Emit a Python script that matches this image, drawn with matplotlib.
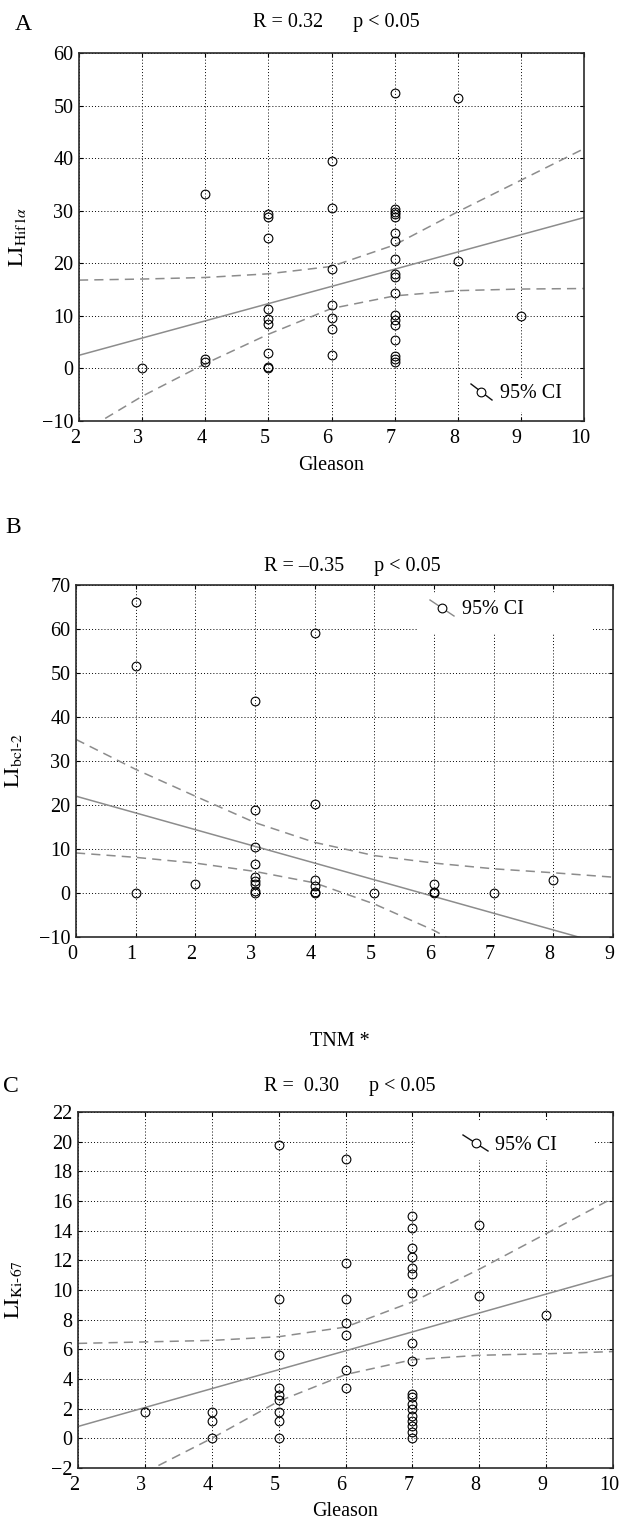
import matplotlib
matplotlib.use("Agg")
import matplotlib.pyplot as plt
from matplotlib.lines import Line2D
from matplotlib.patches import Rectangle
from matplotlib.transforms import ScaledTranslation

plt.rcParams['font.family'] = ['Liberation Serif', 'DejaVu Serif']
plt.rcParams['mathtext.fontset'] = 'stix'

W, H = 620, 1521

# ---------------- data ----------------
# Panel A: LI Hif1alpha vs Gleason
a_x = [3,
       4, 4, 4,
       5, 5, 5, 5, 5, 5, 5, 5, 5,
       6, 6, 6, 6, 6, 6, 6,
       7, 7, 7, 7, 7, 7, 7, 7, 7, 7, 7, 7, 7, 7, 7, 7, 7, 7,
       8, 8,
       9]
a_y = [0.0,
       33.1, 1.8, 1.3,
       29.3, 28.8, 24.9, 11.3, 9.4, 8.4, 2.9, 0.3, 0.0,
       39.4, 30.6, 18.9, 12.1, 9.5, 7.5, 2.5,
       52.3, 30.4, 29.8, 29.3, 28.8, 25.7, 24.2, 20.9, 18.0, 17.4, 14.4, 10.2, 9.2, 8.2, 5.4, 2.3, 1.8, 1.3,
       51.4, 20.4,
       10.0]
a_fit_x = [2, 10]
a_fit_y = [2.5, 28.7]
a_ci_x = [2, 3, 4, 5, 6, 7, 8, 9, 10]
a_ci_hi = [16.8, 17.0, 17.3, 18.0, 19.4, 23.5, 29.8, 35.8, 41.8]
a_ci_lo = [-12.5, -5.3, 0.9, 6.5, 11.4, 13.8, 14.8, 15.1, 15.2]

# Panel B: LI bcl-2 vs TNM
b_x = [1, 1, 1,
       2,
       3, 3, 3, 3, 3, 3, 3, 3, 3,
       4, 4, 4, 4, 4, 4,
       5,
       6, 6, 6,
       7,
       8]
b_y = [66.2, 51.7, 0.0,
       2.0,
       43.6, 18.8, 10.5, 6.7, 3.7, 2.7, 2.0, 0.5, 0.0,
       59.1, 20.3, 3.0, 1.5, 0.2, 0.0,
       0.0,
       2.0, 0.3, 0.0,
       0.0,
       2.9]
b_fit_x = [0, 9]
b_fit_y = [22.0, -12.2]
b_ci_x = [0, 1, 2, 3, 4, 5, 6, 7, 8, 9]
b_ci_hi = [34.9, 28.1, 22.0, 16.0, 11.5, 8.5, 6.8, 5.5, 4.6, 3.6]
b_ci_lo = [9.1, 8.1, 6.8, 4.9, 2.3, -2.5, -8.5, -16.0, -23.0, -30.0]

# Panel C: LI Ki-67 vs Gleason
c_x = [3,
       4, 4, 4,
       5, 5, 5, 5, 5, 5, 5, 5, 5,
       6, 6, 6, 6, 6, 6, 6,
       7, 7, 7, 7, 7, 7, 7, 7, 7, 7, 7, 7, 7, 7, 7, 7, 7, 7,
       8, 8,
       9]
c_y = [1.8,
       1.8, 1.2, 0.0,
       19.8, 9.4, 5.6, 3.4, 2.9, 2.6, 1.8, 1.2, 0.0,
       18.8, 11.8, 9.4, 7.8, 7.0, 4.6, 3.4,
       15.0, 14.2, 12.8, 12.2, 11.5, 11.1, 9.8, 6.4, 5.2, 3.0, 2.8, 2.3, 2.0, 1.5, 1.2, 0.8, 0.4, 0.0,
       14.35, 9.6,
       8.3]
c_fit_x = [2, 10]
c_fit_y = [0.8, 11.0]
c_ci_x = [2, 3, 4, 5, 6, 7, 8, 9, 10]
c_ci_hi = [6.4, 6.5, 6.6, 6.85, 7.5, 9.2, 11.4, 13.8, 16.2]
c_ci_lo = [-4.8, -2.3, 0.0, 2.5, 4.3, 5.3, 5.6, 5.7, 5.85]

panels = [
    dict(letter='A', title='R = 0.32      p < 0.05',
         x=a_x, y=a_y, fx=a_fit_x, fy=a_fit_y, cx=a_ci_x, chi=a_ci_hi, clo=a_ci_lo,
         xlim=(2, 10), xticks=list(range(2, 11)), ylim=(-10, 60), yticks=list(range(-10, 61, 10)),
         ylabel=r'$\mathrm{LI}_{\mathrm{Hif1}\alpha}$', xlabel='Gleason'),
    dict(letter='B', title='R = \u20130.35      p < 0.05',
         x=b_x, y=b_y, fx=b_fit_x, fy=b_fit_y, cx=b_ci_x, chi=b_ci_hi, clo=b_ci_lo,
         xlim=(0, 9), xticks=list(range(0, 10)), ylim=(-10, 70), yticks=list(range(-10, 71, 10)),
         ylabel=r'$\mathrm{LI}_{\mathrm{bcl\text{-}2}}$', xlabel='TNM *'),
    dict(letter='C', title='R =  0.30      p < 0.05',
         x=c_x, y=c_y, fx=c_fit_x, fy=c_fit_y, cx=c_ci_x, chi=c_ci_hi, clo=c_ci_lo,
         xlim=(2, 10), xticks=list(range(2, 11)), ylim=(-2, 22), yticks=list(range(-2, 23, 2)),
         ylabel=r'$\mathrm{LI}_{\mathrm{Ki\text{-}67}}$', xlabel='Gleason'),
]

# layout in pixels: (left, right, top, bottom)
boxes = [(79, 584, 53, 421), (76, 613, 585, 937), (78, 613, 1112, 1468)]
letter_pos = [(23, 25), (13, 527), (11, 1086)]
title_pos = [(336, 22), (352, 566), (350, 1086)]
ylabel_pos = [(18, 237), (14, 760), (14, 1290)]
xlabel_pos = [(331, 466), (340, 1041), (345, 1511)]
# legend: white box (l, r, t, b), handle line (x0,y0,x1,y1), circle (x,y), text (x,y), handle colour
legends = [
    dict(box=(462, 580, 378, 412), line=(471, 384, 492, 400), circ=(481, 392), text=(500, 393), col='#111111'),
    dict(box=(417, 593, 593, 634), line=(430, 600, 454, 616), circ=(442, 608), text=(462, 609), col='#888888'),
    dict(box=(415, 593, 1122, 1160), line=(463, 1135, 488, 1151), circ=(476, 1143), text=(495, 1146), col='#111111'),
]

fig = plt.figure(figsize=(W / 100, H / 100), dpi=100)


def fx(px):
    return px / W


def fy(py):
    return 1 - py / H


FS = 14.5
GRAY = '#8c8c8c'
shift = ScaledTranslation(-4 / 100, 0, fig.dpi_scale_trans)
for p, (l, r, t, b), lp, tp, ylp, xlp, lg in zip(panels, boxes, letter_pos, title_pos,
                                                  ylabel_pos, xlabel_pos, legends):
    ax = fig.add_axes([fx(l), fy(b), (r - l) / W, (b - t) / H])
    ax.set_xlim(*p['xlim'])
    ax.set_ylim(*p['ylim'])
    ax.set_xticks(p['xticks'])
    ax.set_yticks(p['yticks'])
    ax.grid(True, color='black', linestyle=(0, (1, 2.2)), linewidth=0.7)
    ax.set_axisbelow(True)
    for s in ax.spines.values():
        s.set_linewidth(1.2)
        s.set_color('#2a2a2a')
    ax.tick_params(direction='in', length=3, width=0.8, labelsize=FS, pad=4,
                   top=True, right=True)
    ax.tick_params(axis='x', pad=5.5)
    for lab in ax.get_xticklabels():
        lab.set_transform(lab.get_transform() + shift)
    ax.plot(p['fx'], p['fy'], color=GRAY, lw=1.1, zorder=2)
    ax.plot(p['cx'], p['chi'], color=GRAY, lw=1.1, ls=(0, (6, 4)), zorder=2)
    ax.plot(p['cx'], p['clo'], color=GRAY, lw=1.1, ls=(0, (6, 4)), zorder=2)
    ax.plot(p['x'], p['y'], ls='none', marker='o', markersize=6.3, markerfacecolor='none',
            markeredgecolor='black', markeredgewidth=0.8, zorder=3, clip_on=False)

    fig.text(fx(lp[0]), fy(lp[1]), p['letter'], fontsize=17, ha='center', va='center')
    fig.text(fx(tp[0]), fy(tp[1]), p['title'], fontsize=FS, ha='center', va='center')
    fig.text(fx(ylp[0]), fy(ylp[1]), p['ylabel'], fontsize=16, rotation=90, ha='center', va='center')
    fig.text(fx(xlp[0]), fy(xlp[1]), p['xlabel'], fontsize=FS, ha='center', va='center')

    bl, br, bt, bb = lg['box']
    fig.patches.append(Rectangle((fx(bl), fy(bb)), (br - bl) / W, (bb - bt) / H,
                                 transform=fig.transFigure, facecolor='white',
                                 edgecolor='none', zorder=5))
    x0, y0, x1, y1 = lg['line']
    fig.lines.append(Line2D([fx(x0), fx(x1)], [fy(y0), fy(y1)], transform=fig.transFigure,
                            color=lg['col'], lw=1.0, zorder=6))
    cxp, cyp = lg['circ']
    fig.lines.append(Line2D([fx(cxp)], [fy(cyp)], transform=fig.transFigure, ls='none',
                            marker='o', markersize=6.3, markerfacecolor='white',
                            markeredgecolor='black', markeredgewidth=0.8, zorder=7))
    fig.text(fx(lg['text'][0]), fy(lg['text'][1]), '95% CI', fontsize=FS,
             ha='left', va='center', zorder=8)

fig.savefig('out.png', dpi=100)
